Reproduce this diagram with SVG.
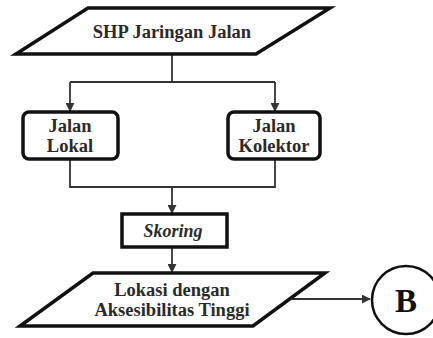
<svg xmlns="http://www.w3.org/2000/svg" width="433" height="338" viewBox="0 0 433 338">
<style>
.shape{fill:#fff;stroke:#111;stroke-width:3.5;stroke-linejoin:miter}
.t{font-family:'Liberation Serif','Times New Roman','DejaVu Serif',serif;font-weight:700;fill:#2a2a2a;text-anchor:middle;font-size:18.5px}
.c{fill:none;stroke:#333;stroke-width:1.8}
</style>
<defs>
<marker id="ah" viewBox="0 0 10 10" refX="9" refY="5" markerWidth="9" markerHeight="9" markerUnits="userSpaceOnUse" orient="auto">
<path d="M0,0 L10,5 L0,10 Z" fill="#333"/>
</marker>
</defs>
<g id="connectors">
<path class="c" d="M172,55 V82 M70,82 H275"/>
<path class="c" d="M70,82 V111" marker-end="url(#ah)"/>
<path class="c" d="M275,82 V111" marker-end="url(#ah)"/>
<path class="c" d="M70,160 V187 H275 V160"/>
<path class="c" d="M172,187 V213" marker-end="url(#ah)"/>
<path class="c" d="M172,248 V272" marker-end="url(#ah)"/>
<path class="c" d="M292,299 H370" marker-end="url(#ah)"/>
</g>
<g id="shp">
<polygon class="shape" points="88,8 330,8 256,54 16,54"/>
<text class="t" x="172" y="38">SHP Jaringan Jalan</text>
</g>
<g id="lokal">
<rect class="shape" x="23" y="112" width="95" height="47" rx="6"/>
<text class="t" x="70" y="132">Jalan</text>
<text class="t" x="70" y="152">Lokal</text>
</g>
<g id="kolektor">
<rect class="shape" x="228" y="112" width="92" height="47" rx="6"/>
<text class="t" x="274" y="132">Jalan</text>
<text class="t" x="274" y="152">Kolektor</text>
</g>
<g id="skoring">
<rect class="shape" x="122" y="214" width="105" height="33"/>
<text class="t" x="173" y="237" font-style="italic" style="font-size:18px">Skoring</text>
</g>
<g id="lokasi">
<polygon class="shape" points="93,273 325,273 253,326 20,326"/>
<text class="t" x="172" y="296">Lokasi dengan</text>
<text class="t" x="172" y="316">Aksesibilitas Tinggi</text>
</g>
<g id="b">
<circle cx="406" cy="300" r="34" fill="#fff" stroke="#111" stroke-width="2.5"/>
<text class="t" x="406" y="312" style="font-size:33px;fill:#111">B</text>
</g>
</svg>
